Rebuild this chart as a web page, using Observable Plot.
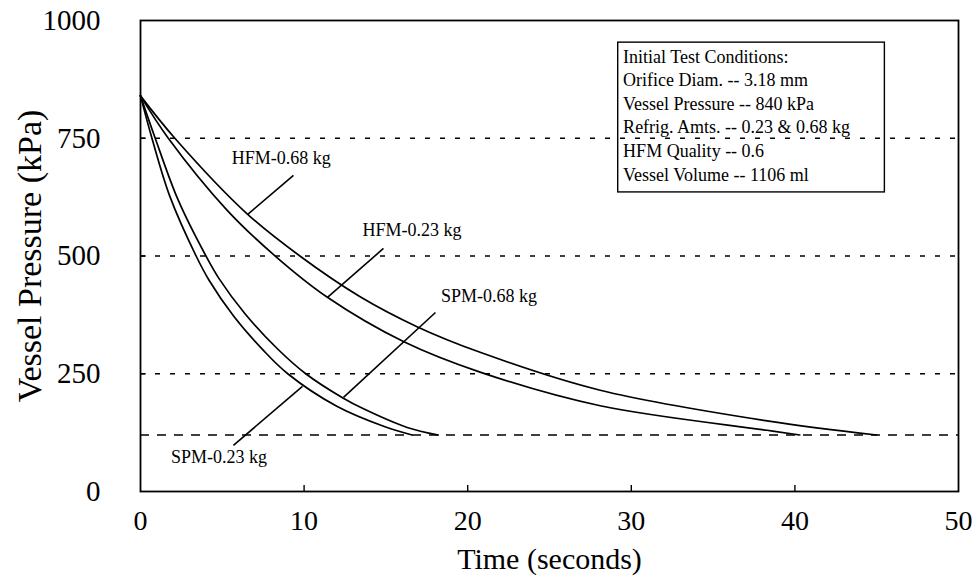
<!DOCTYPE html>
<html>
<head>
<meta charset="utf-8">
<script src="https://cdn.jsdelivr.net/npm/d3@7"></script>
<script src="https://cdn.jsdelivr.net/npm/@observablehq/plot@0.6"></script>
<style>
  html, body { margin: 0; padding: 0; background: #fff; }
</style>
</head>
<body>
<div id="chart"></div>
<script>
// ---- data ----
const seriesNames = ["HFM-0.68 kg", "HFM-0.23 kg", "SPM-0.68 kg", "SPM-0.23 kg"];
const hfm068T = [0, 2.1, 6.5, 9.7, 13.4, 16.9, 20.8, 28.1, 38.3, 45.0];
const hfm068P = [840, 750, 590, 501, 414, 350, 295, 215, 150, 120];
const hfm023T = [0, 1.7, 5.3, 8.2, 11.4, 16.1, 20.8, 28.1, 38.3, 40.3];
const hfm023P = [840, 750, 597, 501, 413, 318, 253, 182, 130, 120];
const spm068T = [0, 0.9, 2.3, 4.0, 4.8, 6.4, 8.4, 10.1, 12.4, 13.6, 16.3, 18.2];
const spm068P = [840, 750, 619, 500, 452, 377, 302, 250, 198, 176, 136, 120];
const spm023T = [0, 0.7, 1.8, 3.4, 4.2, 5.7, 7.5, 9.0, 12.0, 14.9, 16.6];
const spm023P = [840, 750, 626, 500, 448, 372, 300, 250, 181, 138, 120];

const xTicks = [0, 10, 20, 30, 40, 50];
const yTicks = [0, 250, 500, 750, 1000];
const gridLevels = [750, 500, 250];
const cutoffLevel = [120];

// label anchors and leader lines, in data units (seconds, kPa)
const labelT = [8.6, 16.6, 21.3, 4.8];
const labelP = [707, 554, 414, 72];
const leaderT1 = [9.35, 14.85, 18.03, 5.68];
const leaderP1 = [671, 516, 380, 98];
const leaderT2 = [6.54, 11.43, 12.41, 9.90];
const leaderP2 = [588, 412, 200, 223];

const infoLines = [
  "Initial Test Conditions:",
  "Orifice Diam. -- 3.18 mm",
  "Vessel Pressure -- 840 kPa",
  "Refrig. Amts. -- 0.23 & 0.68 kg",
  "HFM Quality -- 0.6",
  "Vessel Volume -- 1106 ml"
];
const infoBoxT = [29.2, 45.5];
const infoBoxP = [635, 953];
const infoTextT = 29.5;
const infoTextP = 946;

// ---- build tables ----
const seriesT = [hfm068T, hfm023T, spm068T, spm023T];
const seriesP = [hfm068P, hfm023P, spm068P, spm023P];
const curves = seriesNames.flatMap((name, i) =>
  seriesT[i].map((t, j) => ({series: name, t, p: seriesP[i][j]})));
const labels = seriesNames.map((name, i) => ({name, t: labelT[i], p: labelP[i]}));
const leaders = seriesNames.map((name, i) => ({
  t1: leaderT1[i], p1: leaderP1[i], t2: leaderT2[i], p2: leaderP2[i]}));

const font = "'Liberation Serif', 'Times New Roman', serif";

const chart = Plot.plot({
  width: 976,
  height: 582,
  marginLeft: 140,
  marginRight: 18,
  marginTop: 20,
  marginBottom: 91,
  style: {fontFamily: font, background: "#fff", color: "#000"},
  x: {domain: [0, 50], axis: null},
  y: {domain: [0, 1000], axis: null},
  marks: [
    Plot.ruleY(gridLevels, {stroke: "#000", strokeWidth: 1.3, strokeDasharray: "5,10"}),
    Plot.ruleY(cutoffLevel, {stroke: "#000", strokeWidth: 1.3, strokeDasharray: "9,8"}),
    Plot.line(curves, {x: "t", y: "p", z: "series", curve: "catmull-rom", stroke: "#000", strokeWidth: 1.7}),
    Plot.link(leaders, {x1: "t1", y1: "p1", x2: "t2", y2: "p2", stroke: "#000", strokeWidth: 1.6}),
    Plot.text(labels, {x: "t", y: "p", text: "name", fontSize: 18, fill: "#000"}),
    Plot.rect([{x1: infoBoxT[0], x2: infoBoxT[1], y1: infoBoxP[0], y2: infoBoxP[1]}],
      {x1: "x1", x2: "x2", y1: "y1", y2: "y2", fill: "none", stroke: "#000", strokeWidth: 1.4}),
    Plot.text([infoLines.join("\n")], {x: () => infoTextT, y: () => infoTextP, text: d => d,
      textAnchor: "start", lineAnchor: "top", lineHeight: 1.31, fontSize: 18, fill: "#000"}),
    Plot.ruleX(xTicks.slice(1, -1), {x: d => d, y1: 0, y2: 13, stroke: "#000", strokeWidth: 1.4}),
    Plot.ruleY(yTicks.slice(1, -1), {y: d => d, x1: 0, x2: 0.35, stroke: "#000", strokeWidth: 1.4}),
    Plot.frame({stroke: "#000", strokeWidth: 1.8}),
    // tick labels
    Plot.text(xTicks, {x: d => d, frameAnchor: "bottom", dy: 30, lineAnchor: "middle",
      text: d => String(d), fontSize: 28, fill: "#000"}),
    Plot.text(yTicks, {y: d => d, frameAnchor: "left", dx: -40, textAnchor: "end", lineAnchor: "middle",
      text: d => String(d), fontSize: 29, fill: "#000"}),
    // axis titles
    Plot.text(["Time (seconds)"], {frameAnchor: "bottom", dy: 68, textAnchor: "middle", lineAnchor: "middle",
      fontSize: 30, fill: "#000"}),
    Plot.text(["Vessel Pressure (kPa)"], {frameAnchor: "left", dx: -110, rotate: -90, textAnchor: "middle",
      lineAnchor: "middle", fontSize: 34, fill: "#000"})
  ]
});

document.getElementById("chart").appendChild(chart);
</script>
</body>
</html>
